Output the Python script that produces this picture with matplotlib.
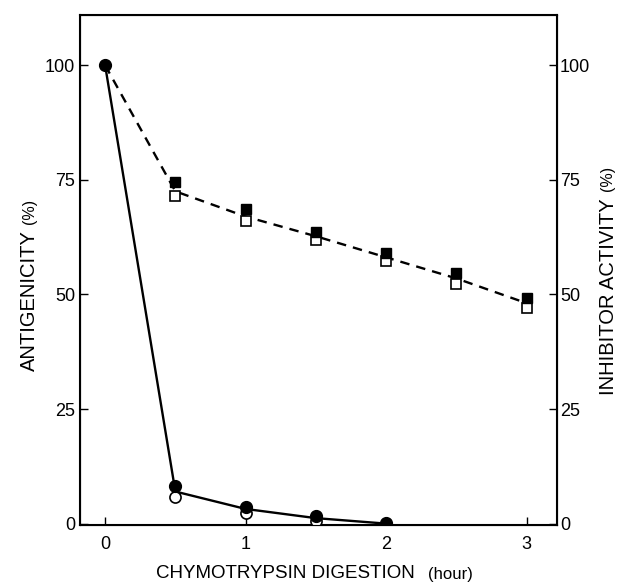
import matplotlib.pyplot as plt
import numpy as np

plt.rcParams['font.family'] = ['Liberation Sans', 'DejaVu Sans']

# inhibitor activity (squares, dashed line)
horas_sq = [0, 0.5, 1, 1.5, 2, 2.5, 3]
inhib_lleno = [100, 74.5, 68.6, 63.6, 59.0, 54.7, 49.2]
inhib_vacio = [None, 71.5, 66.0, 61.9, 57.3, 52.3, 47.0]
inhib_linea = [100, 72.5, 67.0, 62.7, 58.1, 53.5, 48.1]

# antigenicity (circles, solid line)
horas_ci = [0, 0.5, 1, 1.5, 2]
anti_lleno = [100, 8.1, 3.7, 1.7, 0.2]
anti_vacio = [None, 5.7, 2.4, 0.5, None]
anti_linea = [100, 7.0, 3.2, 1.2, 0.0]

W, H = 621, 583
fig = plt.figure(figsize=(W / 100, H / 100), dpi=100)
ax = fig.add_axes([0.129, 0.0995, 0.768, 0.875])

ax.plot(horas_sq, inhib_linea, color='black', lw=1.7, ls=(0, (4, 3)), zorder=2)
ax.plot(horas_ci, anti_linea, color='black', lw=1.7, zorder=2)

xs = [h for h, v in zip(horas_sq, inhib_vacio) if v is not None]
ys = [v for v in inhib_vacio if v is not None]
ax.plot(xs, ys, 's', ms=7, mfc='white', mec='black', mew=1.2, zorder=3)
ax.plot(horas_sq[1:], inhib_lleno[1:], 's', ms=7, color='black', zorder=4)

xs = [h for h, v in zip(horas_ci, anti_vacio) if v is not None]
ys = [v for v in anti_vacio if v is not None]
ax.plot(xs, ys, 'o', ms=8, mfc='white', mec='black', mew=1.2, zorder=3)
ax.plot(horas_ci, anti_lleno, 'o', ms=8.5, color='black', zorder=4)

ax.set_xlim(-0.178, 3.217)
ax.set_ylim(-0.3, 111)
ax.set_xticks([0, 1, 2, 3])
ax.set_yticks([0, 25, 50, 75, 100])
ax.tick_params(direction='in', length=6, width=1, labelsize=13, pad=3.5)
ax.tick_params(axis='x', pad=8)
for s in ax.spines.values():
    s.set_linewidth(1.5)

ax2 = ax.twinx()
ax2.set_ylim(ax.get_ylim())
ax2.set_yticks([0, 25, 50, 75, 100])
ax2.tick_params(direction='in', length=6, width=1, labelsize=13, pad=2)


def px(x, y):
    return x / W, 1 - y / H


# axis titles, with the smaller unit part
fig.text(*px(415, 574), 'CHYMOTRYPSIN DIGESTION', fontsize=13.5,
         ha='right', va='center')
fig.text(*px(428, 574), '(hour)', fontsize=12, ha='left', va='center')

fig.text(*px(29, 230), 'ANTIGENICITY', fontsize=14.5, rotation=90,
         ha='center', va='top')
fig.text(*px(29, 211), '(%)', fontsize=11.5, rotation=90,
         ha='center', va='center')

fig.text(*px(608, 198), 'INHIBITOR ACTIVITY', fontsize=14.5, rotation=90,
         ha='center', va='top')
fig.text(*px(608, 178), '(%)', fontsize=11.5, rotation=90,
         ha='center', va='center')

plt.savefig('out.png', dpi=100)
